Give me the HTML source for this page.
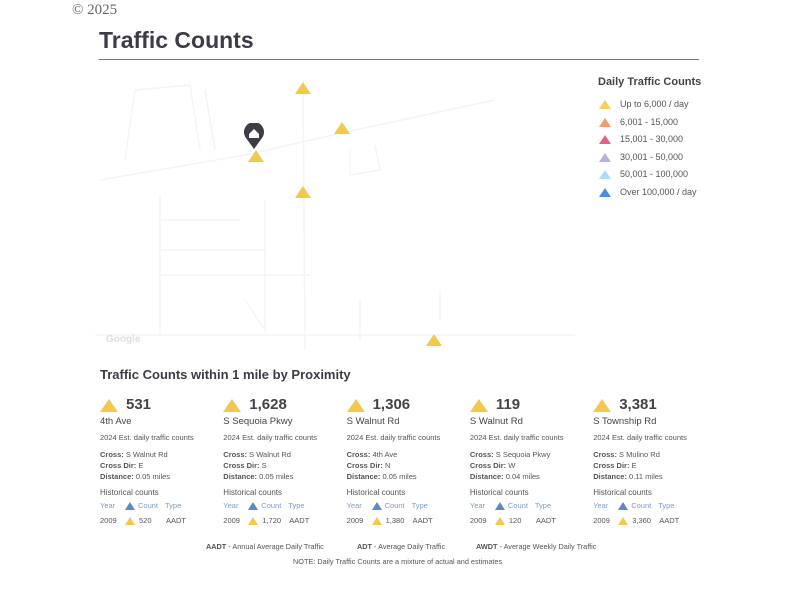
<!DOCTYPE html>
<html><head><meta charset="utf-8"><style>
*{margin:0;padding:0;box-sizing:border-box}
body{width:800px;height:600px;background:#fff;position:relative;overflow:hidden;font-family:"Liberation Sans",sans-serif;color:#444}
.a{position:absolute;white-space:nowrap}
.tri{position:absolute;width:0;height:0;border-left:8px solid transparent;border-right:8px solid transparent;border-bottom:12px solid #f2c94c}
.st{position:absolute;width:0;height:0;border-left:5px solid transparent;border-right:5px solid transparent;border-bottom:8px solid #f2c94c}
.lg{position:absolute;width:0;height:0;border-left:6px solid transparent;border-right:6px solid transparent;border-bottom:9px solid}
.s{font-size:7.5px;color:#555}
</style></head><body>
<div class="a" style="left:72px;top:2px;font-family:'Liberation Serif',serif;font-size:15px;color:#666">© 2025</div>
<div class="a" style="left:99px;top:27px;font-size:23px;font-weight:bold;color:#3c3c46">Traffic Counts</div>
<div class="a" style="left:99px;top:59px;width:600px;height:1px;background:#777"></div>

<svg class="a" style="left:95px;top:70px" width="480" height="290">
<g stroke="#f1f5f5" stroke-width="1.5" fill="none">
<path d="M5 110 L150 85 L260 60 L400 30"/>
<path d="M208 10 L210 280 M65 125 L65 265 L170 265 M65 180 L170 180 M65 150 L145 150 M65 205 L215 205 M30 90 L40 20 L95 15 L105 80 M110 20 L120 80 M150 230 L170 260 L170 130 M265 230 L265 270 M345 220 L345 250 M0 265 L480 265 M255 80 L255 105 L285 100 L280 75"/>
</g>
</svg>
<div class="a" style="left:106px;top:334px;font-size:10px;color:#dde;font-weight:bold">Google</div>
<div class="tri" style="left:295px;top:82px"></div>
<div class="tri" style="left:334px;top:122px"></div>
<div class="tri" style="left:248px;top:150px"></div>
<div class="tri" style="left:295px;top:186px"></div>
<div class="tri" style="left:426px;top:334px"></div>
<svg class="a" style="left:243px;top:123px" width="22" height="27"><path d="M11 26 L3 15 A10 10 0 1 1 19 15 Z" fill="#3d3d47"/><path d="M6 11 L11 6 L16 11 L16 15 L6 15Z" fill="#fff"/></svg>

<div class="a" style="left:598px;top:76px;font-size:11px;font-weight:bold;color:#444">Daily Traffic Counts</div>
<div class="lg" style="left:599px;top:100px;border-bottom-color:#f5cf58"></div><div class="a s" style="left:620px;top:99px;font-size:9px">Up to 6,000 / day</div>
<div class="lg" style="left:599px;top:118px;border-bottom-color:#f39a6e"></div><div class="a s" style="left:620px;top:117px;font-size:9px">6,001 - 15,000</div>
<div class="lg" style="left:599px;top:135px;border-bottom-color:#ea5f7e"></div><div class="a s" style="left:620px;top:134px;font-size:9px">15,001 - 30,000</div>
<div class="lg" style="left:599px;top:153px;border-bottom-color:#b9afe6"></div><div class="a s" style="left:620px;top:152px;font-size:9px">30,001 - 50,000</div>
<div class="lg" style="left:599px;top:170px;border-bottom-color:#acdcf5"></div><div class="a s" style="left:620px;top:169px;font-size:9px">50,001 - 100,000</div>
<div class="lg" style="left:599px;top:188px;border-bottom-color:#4a8ee0"></div><div class="a s" style="left:620px;top:187px;font-size:9px">Over 100,000 / day</div>

<div class="a" style="left:100px;top:367px;font-size:13px;font-weight:bold;color:#3c3c46">Traffic Counts within 1 mile by Proximity</div>

<div id="cards"></div>
<script>
var d=[["531","4th Ave","S Walnut Rd","E","0.05","520"],["1,628","S Sequoia Pkwy","S Walnut Rd","S","0.05","1,720"],["1,306","S Walnut Rd","4th Ave","N","0.05","1,380"],["119","S Walnut Rd","S Sequoia Pkwy","W","0.04","120"],["3,381","S Township Rd","S Mulino Rd","E","0.11","3,360"]];
var h="";d.forEach(function(c,i){var x=100+i*123.3;
h+='<div class="tri" style="left:'+x+'px;top:399px;border-left-width:9px;border-right-width:9px;border-bottom-width:13px"></div>'+
'<div class="a" style="left:'+(x+26)+'px;top:396px;font-size:15px;font-weight:bold;color:#444">'+c[0]+'</div>'+
'<div class="a" style="left:'+x+'px;top:416px;font-size:9.5px;color:#444">'+c[1]+'</div>'+
'<div class="a s" style="left:'+x+'px;top:433px">2024 Est. daily traffic counts</div>'+
'<div class="a s" style="left:'+x+'px;top:450px"><b>Cross:</b> '+c[2]+'</div>'+
'<div class="a s" style="left:'+x+'px;top:461px"><b>Cross Dir:</b> '+c[3]+'</div>'+
'<div class="a s" style="left:'+x+'px;top:472px"><b>Distance:</b> '+c[4]+' miles</div>'+
'<div class="a s" style="left:'+x+'px;top:488px;font-size:8px">Historical counts</div>'+
'<div class="a s" style="left:'+x+'px;top:501px;color:#7d9cc6">Year</div><div class="st" style="left:'+(x+25)+'px;top:502px;border-bottom-color:#5b88c8"></div><div class="a s" style="left:'+(x+38)+'px;top:501px;color:#7d9cc6">Count</div><div class="a s" style="left:'+(x+65)+'px;top:501px;color:#7d9cc6">Type</div>'+
'<div class="a s" style="left:'+x+'px;top:516px">2009</div><div class="st" style="left:'+(x+25)+'px;top:517px"></div><div class="a s" style="left:'+(x+39)+'px;top:516px">'+c[5]+'</div><div class="a s" style="left:'+(x+66)+'px;top:516px">AADT</div>';});
document.getElementById("cards").innerHTML=h;
</script>
<div class="a s" style="left:206px;top:542px;font-size:7.3px"><b>AADT</b> - Annual Average Daily Traffic</div>
<div class="a s" style="left:357px;top:542px;font-size:7.3px"><b>ADT</b> - Average Daily Traffic</div>
<div class="a s" style="left:476px;top:542px;font-size:7.3px"><b>AWDT</b> - Average Weekly Daily Traffic</div>
<div class="a s" style="left:293px;top:557px;font-size:7.3px">NOTE: Daily Traffic Counts are a mixture of actual and estimates</div>
</body></html>
